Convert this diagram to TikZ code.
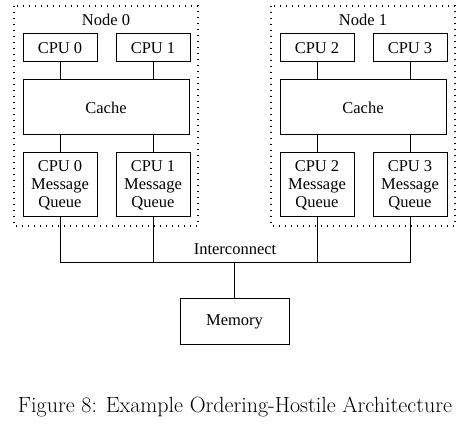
\documentclass[tikz,border=0pt]{standalone}
\usepackage{fontspec}
\usepackage{tikz}
\usetikzlibrary{positioning}
\newfontfamily\boxfont{Liberation Serif}

\begin{document}
\begin{tikzpicture}[
    x=1pt, y=-1pt,
    cpu/.style={rectangle, draw, line width=1pt, minimum width=74pt, minimum height=28pt, inner sep=0pt, font=\boxfont\fontsize{16.5}{18}\selectfont},
    cache/.style={rectangle, draw, line width=1pt, minimum width=166pt, minimum height=55pt, inner sep=0pt, font=\boxfont\fontsize{16.5}{18}\selectfont},
    queue/.style={rectangle, draw, line width=1pt, minimum width=74pt, minimum height=64pt, inner sep=0pt, align=center, font=\boxfont\fontsize{16.5}{18}\selectfont},
    group/.style={draw, line width=1.2pt, dash pattern=on 1.2pt off 4.8pt},
    wire/.style={line width=1pt},
    label/.style={font=\boxfont\fontsize{16.5}{18}\selectfont}
]
\useasboundingbox (0,0) rectangle (474,430);

% Node 0
\draw[group] (14,6) rectangle (198,226);
\node[label] (lab0) at (106,20) {Node 0};
\node[cpu] (cpu0) at (60,48) {CPU 0};
\node[cpu, right=18pt of cpu0] (cpu1) {CPU 1};
\node[cache] (cache0) at (106,107.5) {Cache};
\node[queue] (mq0) at (60,185) {CPU 0\\Message\\Queue};
\node[queue, right=18pt of mq0] (mq1) {CPU 1\\Message\\Queue};

% Node 1
\draw[group] (271,6) rectangle (455,226);
\node[label] (lab1) at (363,20) {Node 1};
\node[cpu] (cpu2) at (317,48) {CPU 2};
\node[cpu, right=18pt of cpu2] (cpu3) {CPU 3};
\node[cache] (cache1) at (363,107.5) {Cache};
\node[queue] (mq2) at (317,185) {CPU 2\\Message\\Queue};
\node[queue, right=18pt of mq2] (mq3) {CPU 3\\Message\\Queue};

% Memory
\node[rectangle, draw, line width=1pt, minimum width=109pt, minimum height=46pt, font=\boxfont\fontsize{16.5}{18}\selectfont] (mem) at (234.5,322) {Memory};
\coordinate (bus) at (234.5,263);
\node[label] (ic) at (235,249) {Interconnect};

% Verbindungen
\draw[wire] (cpu0) -- (cpu0 |- cache0.north);
\draw[wire] (cpu1) -- (cpu1 |- cache0.north);
\draw[wire] (cpu0 |- cache0.south) -- (mq0);
\draw[wire] (cpu1 |- cache0.south) -- (mq1);
\draw[wire] (cpu2) -- (cpu2 |- cache1.north);
\draw[wire] (cpu3) -- (cpu3 |- cache1.north);
\draw[wire] (cpu2 |- cache1.south) -- (mq2);
\draw[wire] (cpu3 |- cache1.south) -- (mq3);

% Interconnect
\draw[wire] (mq0.south) -- (mq0 |- bus) -- (mq3 |- bus) -- (mq3.south);
\draw[wire] (mq1.south) -- (mq1 |- bus);
\draw[wire] (mq2.south) -- (mq2 |- bus);
\draw[wire] (bus) -- (mem);

% Caption
\node[font=\fontsize{22}{26}\selectfont] (cap) at (235,407) {Figure 8: Example Ordering-Hostile Architecture};
\end{tikzpicture}
\end{document}
